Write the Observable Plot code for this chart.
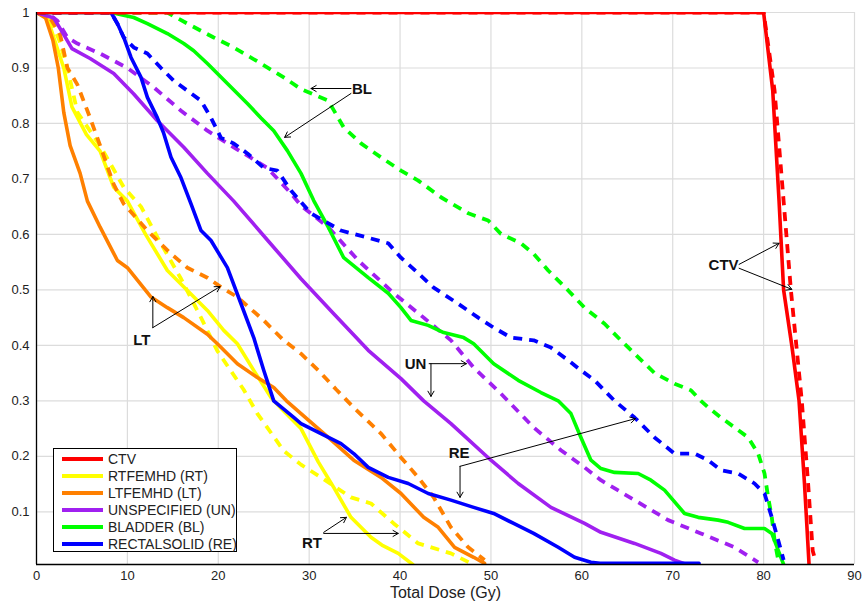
<!DOCTYPE html>
<html>
<head>
<meta charset="utf-8">
<script src="https://cdn.jsdelivr.net/npm/d3@7"></script>
<script src="https://cdn.jsdelivr.net/npm/@observablehq/plot@0.6"></script>
<style>
  html, body { margin: 0; padding: 0; background: #fff; }
  #wrap { position: relative; width: 862px; height: 606px; font-family: Arial, "Liberation Sans", sans-serif; }
  #legend { position: absolute; left: 53px; top: 448px; width: 184px; height: 104px; border: 1.3px solid #000; background: #fff; box-sizing: border-box; }
  .row { position: absolute; left: 0; height: 17px; display: flex; align-items: center; font-size: 14px; color: #222; white-space: nowrap; }
  .sw { display: inline-block; width: 41px; height: 4px; margin-left: 8px; margin-right: 5px; }
</style>
</head>
<body>
<div id="wrap"><div id="legend"></div></div>
<script>
// ---- Data ----
const xTicks = [0, 10, 20, 30, 40, 50, 60, 70, 80, 90];
const yTicks = [0.1, 0.2, 0.3, 0.4, 0.5, 0.6, 0.7, 0.8, 0.9, 1];
const seriesNames = ["CTV", "RTFEMHD (RT)", "LTFEMHD (LT)", "UNSPECIFIED (UN)", "BLADDER (BL)", "RECTALSOLID (RE)"];
const seriesColors = ["#ff0000", "#ffff00", "#ff8000", "#a020f0", "#00ff00", "#0000ff"];

const ctvSolid = [[0,1],[80,1],[81,0.86],[81.7,0.66],[82.2,0.5],[83.1,0.4],[83.9,0.3],[84.5,0.15],[85,0.005]];
const ctvDashed = [[0,1],[80,1],[81.2,0.86],[82.2,0.66],[83,0.5],[83.6,0.4],[84.2,0.3],[84.9,0.15],[85.4,0.03],[85.7,0.012]];

const rtSolid = [[0,1],[1,1],[2,0.95],[3,0.9],[3.9,0.83],[5.5,0.78],[7,0.75],[8.5,0.685],[10,0.66],[12,0.6],[14.4,0.535],[16.6,0.499],[18.8,0.463],[20.6,0.427],[22.1,0.403],[23.9,0.355],[25.8,0.306],[27,0.285],[29.1,0.25],[31,0.19],[32.7,0.144],[34.6,0.09],[36.8,0.054],[38,0.04],[39.8,0.025],[41.4,0.005]];
const rtDashed = [[0,1],[1.5,0.99],[2.5,0.95],[3.4,0.9],[4.5,0.82],[7,0.76],[9.6,0.685],[11.5,0.65],[13.3,0.595],[15.9,0.52],[18.1,0.45],[19.9,0.39],[22.8,0.32],[24.3,0.277],[27.2,0.21],[29.1,0.185],[31.3,0.162],[34.6,0.126],[36.8,0.115],[39.3,0.079],[42,0.043],[45.6,0.025],[47.8,0.007]];

const ltSolid = [[0,1],[1,0.99],[1.8,0.95],[2.4,0.9],[3,0.82],[3.7,0.76],[4.8,0.71],[5.6,0.66],[7,0.613],[8.9,0.553],[10,0.54],[12.6,0.487],[14.4,0.468],[16.2,0.45],[18.8,0.42],[19.9,0.403],[22.1,0.367],[24.3,0.342],[26.1,0.324],[27.5,0.3],[29.1,0.277],[32.1,0.234],[34.9,0.193],[37.9,0.162],[40.1,0.133],[42.6,0.09],[44.2,0.072],[46,0.036],[48.1,0.018],[49.3,0.007]];
const ltDashed = [[0,1],[1.5,0.99],[2.6,0.96],[3.4,0.9],[4.5,0.87],[5.9,0.81],[7,0.76],[8.5,0.69],[9.6,0.655],[12.2,0.607],[14.8,0.565],[16.6,0.54],[18.8,0.522],[20.3,0.505],[22.1,0.487],[25,0.445],[27.2,0.409],[29.1,0.385],[31,0.355],[33,0.32],[34.9,0.288],[37.9,0.241],[40.1,0.198],[42,0.162],[43.7,0.126],[45.6,0.072],[47.5,0.036],[49.3,0.013]];

const unSolid = [[0,1],[1.9,0.99],[3,0.96],[3.9,0.935],[5.9,0.917],[8.5,0.89],[10.7,0.853],[13.3,0.805],[16.2,0.757],[18.8,0.71],[21.7,0.66],[25.4,0.59],[29.1,0.52],[32.7,0.457],[36.5,0.391],[40.1,0.34],[42.6,0.30],[45.6,0.259],[50,0.193],[53,0.151],[56.6,0.108],[60.3,0.079],[62.1,0.063],[65.8,0.043],[68.7,0.025],[70.2,0.013],[71.5,0.005]];
const unDashed = [[0,1],[1.5,0.995],[2.3,0.985],[3.4,0.955],[4.5,0.944],[7,0.926],[10,0.9],[12.9,0.865],[15.9,0.823],[18.8,0.787],[21.7,0.757],[25.4,0.72],[28,0.674],[29.1,0.652],[32.1,0.613],[35.4,0.553],[39.3,0.494],[42.6,0.45],[45.6,0.409],[48.1,0.36],[51.1,0.313],[54.7,0.252],[57.7,0.211],[60.3,0.18],[62.1,0.157],[65.8,0.121],[69.5,0.085],[73.1,0.061],[76.8,0.036],[79.4,0.009]];

const blSolid = [[0,1],[8.2,1],[10.7,0.991],[12.2,0.98],[14.4,0.962],[16.2,0.944],[17.3,0.931],[18.8,0.908],[21,0.872],[23.2,0.836],[24.7,0.81],[26.1,0.787],[27.6,0.751],[29.1,0.71],[30.5,0.661],[32.1,0.613],[33.8,0.558],[36.5,0.522],[38.7,0.494],[40.1,0.468],[41.2,0.445],[43.1,0.436],[44.8,0.423],[47,0.414],[48.1,0.403],[50.3,0.367],[53,0.337],[55.5,0.315],[57.4,0.30],[58.8,0.277],[59.9,0.234],[61,0.193],[62.1,0.178],[63.6,0.171],[66.2,0.169],[67.6,0.157],[69.1,0.139],[71.3,0.097],[72.8,0.09],[75,0.085],[76.1,0.081],[77.9,0.07],[80.1,0.07],[80.9,0.061],[81.6,0.031],[82.2,0.005]];
const blDashed = [[0,1],[14.4,1],[16.6,0.98],[19.5,0.955],[21.7,0.937],[24.7,0.908],[27.2,0.883],[29.1,0.862],[32.1,0.841],[33.8,0.793],[35.7,0.764],[37.9,0.739],[40.1,0.715],[42,0.697],[44.5,0.667],[47.5,0.638],[49.7,0.625],[51.1,0.601],[53.3,0.584],[54.7,0.565],[56.3,0.535],[58.5,0.499],[60.3,0.468],[62.5,0.439],[64.3,0.409],[65.8,0.385],[68,0.35],[70.2,0.331],[72,0.319],[73.1,0.30],[73.9,0.288],[75.3,0.27],[76.8,0.252],[78.3,0.234],[79.4,0.205],[80.1,0.169],[80.5,0.126],[80.9,0.09],[81.2,0.049],[81.7,0.005]];

const reSolid = [[0,1],[8.2,1],[8.9,0.98],[9.6,0.955],[10.4,0.919],[11.5,0.883],[12.2,0.847],[13.3,0.81],[14,0.782],[14.8,0.739],[15.9,0.702],[17,0.655],[18.1,0.607],[19.2,0.589],[21,0.54],[22.5,0.475],[23.9,0.414],[25,0.355],[26.1,0.30],[28.3,0.27],[29.1,0.259],[31.3,0.241],[33.5,0.223],[34.9,0.205],[36.5,0.18],[38.7,0.162],[40.9,0.151],[43.1,0.133],[45.6,0.121],[48.1,0.108],[50.3,0.097],[52.5,0.079],[54.7,0.061],[57.4,0.036],[59.2,0.018],[61,0.009],[62,0.007],[72.9,0.007]];
const reDashed = [[0,1],[8.2,1],[8.9,0.98],[9.6,0.955],[10.7,0.937],[12.2,0.926],[13.7,0.9],[15.1,0.877],[16.6,0.859],[18.1,0.841],[19.2,0.81],[20.3,0.774],[21.7,0.764],[23.2,0.746],[25,0.72],[26.5,0.715],[28,0.679],[30.2,0.638],[33.5,0.607],[36.5,0.594],[38.7,0.584],[40.1,0.558],[42,0.53],[43.7,0.504],[46.4,0.475],[48.6,0.45],[50.3,0.432],[52.2,0.414],[54.7,0.409],[56.6,0.396],[58.5,0.373],[59.9,0.355],[61.4,0.337],[63.6,0.30],[65.8,0.27],[68,0.234],[70.2,0.205],[72.4,0.205],[73.9,0.193],[75.3,0.175],[77.2,0.169],[79,0.151],[80.1,0.133],[80.9,0.09],[81.6,0.049],[82.2,0.013]];

// Annotations (data units)
const labelText = ["BL", "LT", "UN", "RE", "RT", "CTV"];
const labelX = [35.8, 11.6, 41.7, 46.5, 30.3, 75.6];
const labelY = [0.861, 0.409, 0.366, 0.205, 0.043, 0.544];
const arrowX1 = [34.6, 34.6, 12.8, 12.8, 43.2, 43.4, 46.6, 46.6, 31.6, 31.6, 77.3, 77.3];
const arrowY1 = [0.863, 0.854, 0.432, 0.432, 0.367, 0.367, 0.182, 0.182, 0.063, 0.061, 0.546, 0.539];
const arrowX2 = [30.2, 27.3, 12.8, 20.2, 47.3, 43.4, 46.6, 65.9, 34.1, 39.8, 81.7, 83.1];
const arrowY2 = [0.863, 0.775, 0.488, 0.506, 0.367, 0.308, 0.126, 0.268, 0.09, 0.061, 0.584, 0.501];

// ---- Build ----
const solids = [ctvSolid, rtSolid, ltSolid, unSolid, blSolid, reSolid];
const dashes = [ctvDashed, rtDashed, ltDashed, unDashed, blDashed, reDashed];
const order = [1, 2, 3, 4, 5, 0];
const lineMarks = [];
for (const i of order) {
  lineMarks.push(Plot.line(dashes[i], {x: d => d[0], y: d => d[1], stroke: seriesColors[i], strokeWidth: 3.8, strokeDasharray: "9,7", strokeLinejoin: "miter", strokeLinecap: "butt", clip: true}));
  lineMarks.push(Plot.line(solids[i], {x: d => d[0], y: d => d[1], stroke: seriesColors[i], strokeWidth: 3.6, clip: true}));
}
const labels = labelText.map((t, i) => ({t, x: labelX[i], y: labelY[i]}));
const arrows = arrowX1.map((x1, i) => ({x1, y1: arrowY1[i], x2: arrowX2[i], y2: arrowY2[i]}));

const chart = Plot.plot({
  width: 862, height: 606,
  marginLeft: 36, marginRight: 8, marginTop: 12, marginBottom: 42,
  style: {fontFamily: 'Arial, "Liberation Sans", sans-serif', fontSize: "13px", color: "#222", background: "#fff"},
  x: {domain: [0, 90]},
  y: {domain: [0.005, 1]},
  marks: [
    Plot.gridX(xTicks, {stroke: "#dcdcdc", strokeOpacity: 1, strokeWidth: 1.2}),
    Plot.gridY(yTicks, {stroke: "#dcdcdc", strokeOpacity: 1, strokeWidth: 1.2}),
    ...lineMarks,
    Plot.ruleX([0], {stroke: "#000", strokeWidth: 1.3}),
    Plot.ruleY([0.005], {stroke: "#000", strokeWidth: 1.3}),
    Plot.axisX(xTicks, {tickSize: 0, tickPadding: 6, label: null, fontSize: 13}),
    Plot.axisY(yTicks, {tickSize: 0, tickPadding: 7, label: null, fontSize: 13, tickFormat: d => d === 1 ? "1" : d.toFixed(1)}),
    Plot.text(["Total Dose (Gy)"], {frameAnchor: "bottom", lineAnchor: "top", dy: 22, fontSize: 16, fill: "#222"}),
    Plot.arrow(arrows, {x1: "x1", y1: "y1", x2: "x2", y2: "y2", stroke: "#000", strokeWidth: 1, headLength: 9}),
    Plot.text(labels, {x: "x", y: "y", text: "t", fontWeight: "bold", fontSize: 15, fill: "#111"})
  ]
});
document.getElementById("wrap").prepend(chart);

// Legend
const legend = document.getElementById("legend");
seriesNames.forEach((name, i) => {
  const row = document.createElement("div");
  row.className = "row";
  row.style.top = (1.5 + i * 16.9) + "px";
  const sw = document.createElement("span");
  sw.className = "sw";
  sw.style.background = seriesColors[i];
  row.appendChild(sw);
  row.appendChild(document.createTextNode(name));
  legend.appendChild(row);
});
</script>
</body>
</html>
